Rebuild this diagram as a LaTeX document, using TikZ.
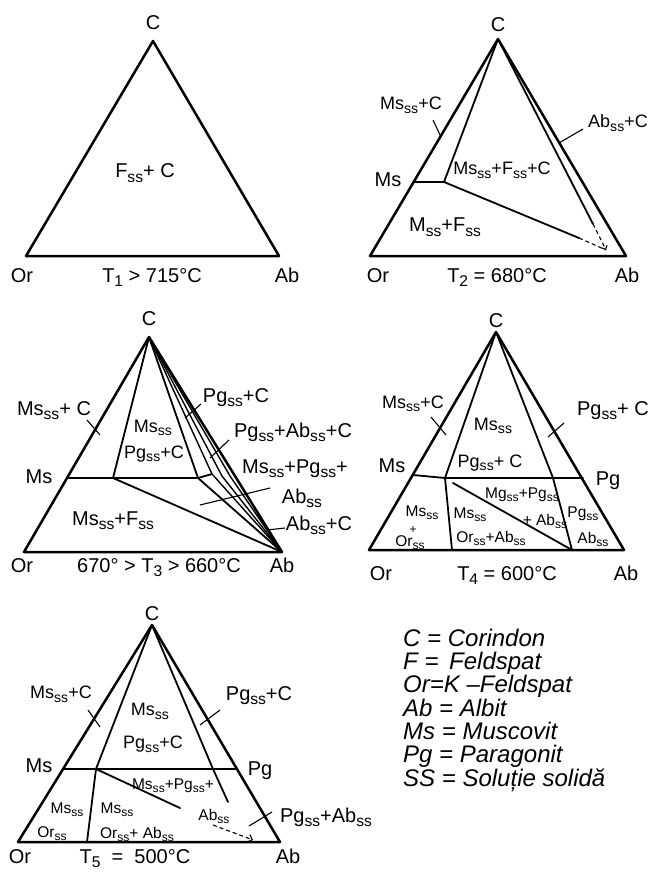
\documentclass[tikz,border=0pt]{standalone}
\usepackage{fontspec}
\setmainfont{Liberation Sans}
\usepackage{graphicx}
\usetikzlibrary{arrows.meta}
\newcommand\sS{\raisebox{-0.42ex}{\scalebox{0.78}{ss}}}
\newcommand\ix[1]{\raisebox{-0.42ex}{\scalebox{0.78}{#1}}}
\tikzset{
  edge/.style={line width=2.5pt, line join=round, line cap=round},
  inner/.style={line width=1.8pt, line cap=round, line join=round},
  fan/.style={line width=1.4pt, line cap=round, line join=round},
  tick/.style={line width=1.1pt},
  dsh/.style={line width=1.1pt, dash pattern=on 4pt off 3pt},
  lab/.style={font=\fontsize{20}{22}\selectfont, inner sep=0pt, anchor=base},
  mlab/.style={font=\fontsize{18}{20}\selectfont, inner sep=0pt, anchor=base},
  slab/.style={font=\fontsize{15.5}{17}\selectfont, inner sep=0pt, anchor=base},
  tlab/.style={font=\fontsize{12}{13}\selectfont, inner sep=0pt, anchor=base},
  leg/.style={font=\fontsize{24}{25}\selectfont\itshape, inner sep=0pt, anchor=base west}
}
\begin{document}
\begin{tikzpicture}[x=1pt,y=-1pt]
\useasboundingbox (0,0) rectangle (656,877);
\fill[white] (0,0) rectangle (656,877);
% ---------------- T1 ----------------
\coordinate (C1) at (153,41);
\coordinate (Or1) at (26,256);
\coordinate (Ab1) at (279,256);
\draw[edge] (C1) -- (Or1) -- (Ab1) -- cycle;
\node[lab] (c1l) at (153,30) {C};
\node[lab] (or1l) at (22,282) {Or};
\node[lab] (ab1l) at (287,282) {Ab};
\node[lab] (t1l) at (152,282) {T\ix{1} > 715°C};
\node[lab] (r11) at (145,178) {F\sS+ C};
% ---------------- T2 ----------------
\coordinate (C2) at (498,39);
\coordinate (Or2) at (370,256);
\coordinate (Ab2) at (626,256);
\coordinate (Ms2) at (414,182);
\coordinate (P2) at (444,182);
\coordinate (E2) at (579,238);
\coordinate (I2) at (593,224);
\coordinate (D2) at (606,250);
\draw[edge] (C2) -- (Or2) -- (Ab2) -- cycle;
\draw[edge] (Ms2) -- (P2);
\draw[inner] (C2) -- (P2) -- (E2);
\draw[inner] (C2) -- (I2);
\draw[dsh] (E2) -- (D2);
\draw[dsh, -{Straight Barb[length=3pt]}] (I2) -- (D2);
\node[lab] (c2l) at (498,32) {C};
\node[lab] (ms2l) at (388,187) {Ms};
\node[lab] (or2l) at (378,282) {Or};
\node[lab] (t2l) at (497,282) {T\ix{2} = 680°C};
\node[lab] (ab2l) at (627,282) {Ab};
\node[mlab] (r21) at (411,110) {Ms\sS+C};
\coordinate (k21a) at (433,120); \coordinate (k21b) at (441,137);
\draw[tick] (k21a) -- (k21b);
\node[mlab] (r22) at (618,128) {Ab\sS+C};
\coordinate (k22a) at (583,129); \coordinate (k22b) at (559,143);
\draw[tick] (k22a) -- (k22b);
\node[mlab] (r23) at (502,175) {Ms\sS+F\sS+C};
\node[lab] (r24) at (445,232) {M\sS+F\sS};
% ---------------- T3 ----------------
\coordinate (C3) at (149,337);
\coordinate (Or3) at (24,552);
\coordinate (Ab3) at (282,552);
\coordinate (Ms3) at (67,478);
\coordinate (P31) at (113,478);
\coordinate (P32) at (198,478);
\coordinate (Q3) at (212,474);
\coordinate (X31) at (222,476);
\coordinate (X32) at (230,476);
\draw[edge] (C3) -- (Or3) -- (Ab3) -- cycle;
\draw[inner] (Ms3) -- (P32) -- (Q3);
\draw[inner] (C3) -- (P31) -- (Ab3);
\draw[inner] (C3) -- (P32) -- (Ab3);
\draw[fan] (C3) -- (Q3) -- (Ab3);
\draw[fan] (C3) -- (X31) -- (Ab3);
\draw[fan] (C3) -- (X32) -- (Ab3);
\node[lab] (c3l) at (149,325) {C};
\node[lab] (ms3l) at (39,483) {Ms};
\node[lab] (or3l) at (22,572) {Or};
\node[lab] (t3l) at (159,572) {670° > T\ix{3} > 660°C};
\node[lab] (ab3l) at (282,572) {Ab};
\node[lab] (r31) at (54,415) {Ms\sS+ C};
\coordinate (k31a) at (87,420); \coordinate (k31b) at (100,435);
\draw[tick] (k31a) -- (k31b);
\node[mlab] (r32) at (153,432) {Ms\sS};
\node[mlab] (r33) at (154,458) {Pg\sS+C};
\node[lab] (r34) at (236,402) {Pg\sS+C};
\coordinate (k34a) at (201,404); \coordinate (k34b) at (185,418);
\draw[tick] (k34a) -- (k34b);
\node[lab] (r35) at (293,437) {Pg\sS+Ab\sS+C};
\coordinate (k35a) at (229,440); \coordinate (k35b) at (210,458);
\draw[tick] (k35a) -- (k35b);
\node[lab] (r36) at (295,473) {Ms\sS+Pg\sS+};
\node[lab] (r37) at (302,503) {Ab\sS};
\coordinate (k36a) at (270,488); \coordinate (k36b) at (200,505);
\draw[tick] (k36a) -- (k36b);
\node[lab] (r38) at (319,530) {Ab\sS+C};
\coordinate (k38a) at (285,528); \coordinate (k38b) at (267,530);
\draw[tick] (k38a) -- (k38b);
\node[lab] (r39) at (113,525) {Ms\sS+F\sS};
% ---------------- T4 ----------------
\coordinate (C4) at (496,332);
\coordinate (Or4) at (369,550);
\coordinate (Ab4) at (624,550);
\coordinate (Ms4) at (413,475);
\coordinate (P41) at (445,478);
\coordinate (Pg4) at (583,478);
\coordinate (P43) at (553,478);
\coordinate (B41) at (452,550);
\coordinate (B42) at (572,550);
\coordinate (S4) at (453,483);
\draw[edge] (C4) -- (Or4) -- (Ab4) -- cycle;
\draw[inner] (Ms4) -- (P41) -- (Pg4);
\draw[inner] (C4) -- (P41) -- (B41);
\draw[inner] (C4) -- (P43) -- (B42);
\draw[inner] (S4) -- (B42);
\coordinate (k41a) at (431,417); \coordinate (k41b) at (446,435);
\draw[tick] (k41a) -- (k41b);
\coordinate (k42a) at (548,437); \coordinate (k42b) at (564,423);
\draw[tick] (k42a) -- (k42b);
\node[lab] (c4l) at (496,327) {C};
\node[lab] (ms4l) at (392,472) {Ms};
\node[lab] (pg4l) at (608,485) {Pg};
\node[lab] (or4l) at (381,580) {Or};
\node[lab] (t4l) at (507,580) {T\ix{4} = 600°C};
\node[lab] (ab4l) at (626,580) {Ab};
\node[mlab] (r41) at (413,408) {Ms\sS+C};
\node[mlab] (r42) at (493,430) {Ms\sS};
\node[mlab] (r43) at (490,467) {Pg\sS + C};
\node[lab] (r44) at (613,415) {Pg\sS + C};
\node[slab] (r45) at (422,516) {Ms\sS};
\node[tlab] (r45p) at (413,533) {+};
\node[slab] (r45o) at (410,546) {Or\sS};
\node[slab] (r46) at (470,518) {Ms\sS};
\node[slab] (r47) at (491,542) {Or\sS+Ab\sS};
\node[slab] (r48) at (522,498) {Mg\sS+Pg\sS};
\node[slab] (r49) at (545,525) {+ Ab\sS};
\node[slab] (r410) at (583,517) {Pg\sS};
\node[slab] (r411) at (593,543) {Ab\sS};
% ---------------- T5 ----------------
\coordinate (C5) at (152,625);
\coordinate (Or5) at (18,842);
\coordinate (Ab5) at (280,842);
\coordinate (Ms5) at (63,769);
\coordinate (P51) at (96,769);
\coordinate (P53) at (213,769);
\coordinate (Pg5) at (237,769);
\coordinate (E53) at (228,802);
\coordinate (B51) at (87,842);
\coordinate (E52) at (180,808);
\coordinate (DA1) at (213,825);
\coordinate (DA2) at (253,840);
\draw[edge] (C5) -- (Or5) -- (Ab5) -- cycle;
\draw[inner] (Ms5) -- (Pg5);
\draw[inner] (C5) -- (P51) -- (B51);
\draw[inner] (C5) -- (P53) -- (E53);
\draw[inner] (P51) -- (E52);
\draw[dsh, -{Straight Barb[length=4pt]}] (DA1) -- (DA2);
\coordinate (k51a) at (88,710); \coordinate (k51b) at (100,727);
\draw[tick] (k51a) -- (k51b);
\coordinate (k52a) at (200,725); \coordinate (k52b) at (220,710);
\draw[tick] (k52a) -- (k52b);
\coordinate (k53a) at (249,826); \coordinate (k53b) at (272,812);
\draw[tick] (k53a) -- (k53b);
\node[lab] (c5l) at (152,620) {C};
\node[lab] (ms5l) at (39,772) {Ms};
\node[lab] (pg5l) at (260,775) {Pg};
\node[lab] (or5l) at (20,863) {Or};
\node[lab] (t5l) at (135,863) {T\ix{5} \ = \ 500°C};
\node[lab] (ab5l) at (288,863) {Ab};
\node[mlab] (r51) at (61,698) {Ms\sS+C};
\node[mlab] (r52) at (150,715) {Ms\sS};
\node[mlab] (r53) at (153,748) {Pg\sS+C};
\node[lab] (r54) at (259,700) {Pg\sS+C};
\node[slab] (r55) at (173,789) {Ms\sS+Pg\sS+};
\node[slab] (r56) at (214,820) {Ab\sS};
\node[slab] (r57) at (67,813) {Ms\sS};
\node[slab] (r58) at (52,837) {Or\sS};
\node[slab] (r59) at (117,813) {Ms\sS};
\node[slab] (r510) at (137,838) {Or\sS + Ab\sS};
\node[lab] (r511) at (326,822) {Pg\sS+Ab\sS};
% ---------------- legend ----------------
\node[leg] (g1) at (403,646) {C = Corindon};
\node[leg] (g2) at (403,669) {F = \,Feldspat};
\node[leg] (g3) at (403,692) {Or=K –Feldspat};
\node[leg] (g4) at (403,716) {Ab = Albit};
\node[leg] (g5) at (403,739) {Ms = Muscovit};
\node[leg] (g6) at (403,762) {Pg = Paragonit};
\node[leg] (g7) at (403,786) {SS = Soluție solidă};
\end{tikzpicture}
\end{document}
